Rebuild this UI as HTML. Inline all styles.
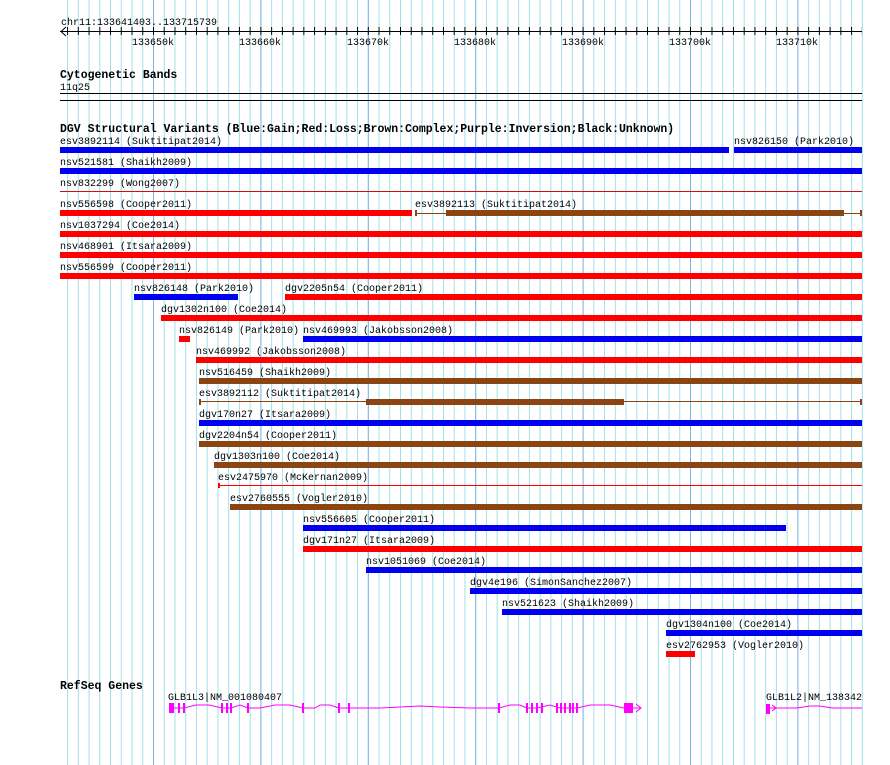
<!DOCTYPE html>
<html><head><meta charset="utf-8"><style>
body{margin:0;background:#fff}
svg{display:block}
text{font-family:"Liberation Mono",monospace;font-size:10px;fill:#000}
.b{font-weight:bold;font-size:11.5px}
.g{shape-rendering:crispEdges}
</style></head><body>
<svg width="890" height="765" viewBox="0 0 890 765" xmlns="http://www.w3.org/2000/svg">
<defs>
<pattern id="minor" patternUnits="userSpaceOnUse" x="153" y="0" width="10.74" height="765"><rect class="g" x="0" y="0" width="1" height="765" fill="#9ee0ea"/></pattern>
<pattern id="major" patternUnits="userSpaceOnUse" x="153" y="0" width="107.4" height="765"><rect class="g" x="0" y="0" width="1" height="765" fill="#80b4e0"/></pattern>
<pattern id="tick" patternUnits="userSpaceOnUse" x="153" y="27" width="10.74" height="8"><rect class="g" x="0" y="0" width="1" height="8" fill="#000"/></pattern>
</defs>
<g class="g">
<rect x="60" y="0" width="803" height="765" fill="url(#minor)"/>
<rect x="60" y="0" width="803" height="765" fill="url(#major)"/>
</g>
<text x="61" y="25">chr11:133641403..133715739</text>
<rect x="60" y="31" width="802" height="1" fill="#000"/>
<rect class="g" x="60" y="27" width="802" height="8" fill="url(#tick)"/>
<path d="M66 27 L61 31.5 L66 36" fill="none" stroke="#000"/>
<text x="132" y="45">133650k</text><text x="239" y="45">133660k</text><text x="347" y="45">133670k</text><text x="454" y="45">133680k</text><text x="562" y="45">133690k</text><text x="669" y="45">133700k</text><text x="776" y="45">133710k</text>
<text x="60" y="78" class="b">Cytogenetic Bands</text>
<text x="60" y="90">11q25</text>
<rect x="60" y="93" width="802" height="1" fill="#000"/>
<rect x="60" y="100" width="802" height="1" fill="#000"/>
<text x="60" y="132" class="b">DGV Structural Variants (Blue:Gain;Red:Loss;Brown:Complex;Purple:Inversion;Black:Unknown)</text>
<g class="g">
<text x="60" y="144">esv3892114 (Suktitipat2014)</text><rect x="60" y="147" width="669" height="6" fill="#0000ee"/>
<text x="734" y="144">nsv826150 (Park2010)</text><rect x="734" y="147" width="128" height="6" fill="#0000ee"/>
<text x="60" y="165">nsv521581 (Shaikh2009)</text><rect x="60" y="168" width="802" height="6" fill="#0000ee"/>
<text x="60" y="186">nsv832299 (Wong2007)</text><rect x="60" y="191" width="802" height="1" fill="#cc1111"/>
<text x="60" y="207">nsv556598 (Cooper2011)</text><rect x="60" y="210" width="352" height="6" fill="#ff0000"/>
<text x="415" y="207">esv3892113 (Suktitipat2014)</text><rect x="415" y="213" width="447" height="1" fill="#8b4513"/><rect x="415" y="210" width="2" height="6" fill="#8b4513"/><rect x="860" y="210" width="2" height="6" fill="#8b4513"/><rect x="446" y="210" width="398" height="6" fill="#8b4513"/>
<text x="60" y="228">nsv1037294 (Coe2014)</text><rect x="60" y="231" width="802" height="6" fill="#ff0000"/>
<text x="60" y="249">nsv468901 (Itsara2009)</text><rect x="60" y="252" width="802" height="6" fill="#ff0000"/>
<text x="60" y="270">nsv556599 (Cooper2011)</text><rect x="60" y="273" width="802" height="6" fill="#ff0000"/>
<text x="134" y="291">nsv826148 (Park2010)</text><rect x="134" y="294" width="104" height="6" fill="#0000ee"/>
<text x="285" y="291">dgv2205n54 (Cooper2011)</text><rect x="285" y="294" width="577" height="6" fill="#ff0000"/>
<text x="161" y="312">dgv1302n100 (Coe2014)</text><rect x="161" y="315" width="701" height="6" fill="#ff0000"/>
<text x="179" y="333">nsv826149 (Park2010)</text><rect x="179" y="336" width="11" height="6" fill="#ff0000"/>
<text x="303" y="333">nsv469993 (Jakobsson2008)</text><rect x="303" y="336" width="559" height="6" fill="#0000ee"/>
<text x="196" y="354">nsv469992 (Jakobsson2008)</text><rect x="196" y="357" width="666" height="6" fill="#ff0000"/>
<text x="199" y="375">nsv516459 (Shaikh2009)</text><rect x="199" y="378" width="663" height="6" fill="#8b4513"/>
<text x="199" y="396">esv3892112 (Suktitipat2014)</text><rect x="199" y="401" width="663" height="1" fill="#8b4513"/><rect x="199" y="399" width="2" height="6" fill="#8b4513"/><rect x="860" y="399" width="2" height="6" fill="#8b4513"/><rect x="366" y="399" width="258" height="6" fill="#8b4513"/>
<text x="199" y="417">dgv170n27 (Itsara2009)</text><rect x="199" y="420" width="663" height="6" fill="#0000ee"/>
<text x="199" y="438">dgv2204n54 (Cooper2011)</text><rect x="199" y="441" width="663" height="6" fill="#8b4513"/>
<text x="214" y="459">dgv1303n100 (Coe2014)</text><rect x="214" y="462" width="648" height="6" fill="#8b4513"/>
<text x="218" y="480">esv2475970 (McKernan2009)</text><rect x="218" y="485" width="644" height="1" fill="#ff0000"/><rect x="218" y="483" width="2" height="5" fill="#ff0000"/>
<text x="230" y="501">esv2760555 (Vogler2010)</text><rect x="230" y="504" width="632" height="6" fill="#8b4513"/>
<text x="303" y="522">nsv556605 (Cooper2011)</text><rect x="303" y="525" width="483" height="6" fill="#0000ee"/>
<text x="303" y="543">dgv171n27 (Itsara2009)</text><rect x="303" y="546" width="559" height="6" fill="#ff0000"/>
<text x="366" y="564">nsv1051069 (Coe2014)</text><rect x="366" y="567" width="496" height="6" fill="#0000ee"/>
<text x="470" y="585">dgv4e196 (SimonSanchez2007)</text><rect x="470" y="588" width="392" height="6" fill="#0000ee"/>
<text x="502" y="606">nsv521623 (Shaikh2009)</text><rect x="502" y="609" width="360" height="6" fill="#0000ee"/>
<text x="666" y="627">dgv1304n100 (Coe2014)</text><rect x="666" y="630" width="196" height="6" fill="#0000ee"/>
<text x="666" y="648">esv2762953 (Vogler2010)</text><rect x="666" y="651" width="29" height="6" fill="#ff0000"/>
</g>
<text x="60" y="689" class="b">RefSeq Genes</text>
<text x="168" y="700">GLB1L3|NM_001080407</text>
<g fill="#ff00ff">
<polyline fill="none" stroke="#ff00ff" points="174,708 184,708 196,705 209,705 222,708 231,708 240,705 248,708 260,708 275,705 290,705 303,708 315,708 320,705 330,705 339,708 349,708 362,708 380,708 400,707 420,706 440,707 470,708 499,708 510,705 520,705 527,708 537,708 550,705 560,708 577,708 590,705 610,705 624,708 641,708"/>
<path d="M636 704 L641 708 L636 712" fill="none" stroke="#ff00ff"/>
<rect x="169" y="703" width="5" height="10"/><rect x="178" y="703" width="2" height="10"/><rect x="183" y="703" width="2" height="10"/>
<rect x="221" y="703" width="2" height="10"/><rect x="226" y="703" width="2" height="10"/><rect x="230" y="703" width="2" height="10"/><rect x="247" y="703" width="2" height="10"/>
<rect x="302" y="703" width="2" height="10"/><rect x="338" y="703" width="2" height="10"/><rect x="348" y="703" width="2" height="10"/>
<rect x="498" y="703" width="2" height="10"/><rect x="526" y="703" width="2" height="10"/><rect x="531" y="703" width="2" height="10"/><rect x="536" y="703" width="2" height="10"/><rect x="541" y="703" width="2" height="10"/>
<rect x="556" y="703" width="2" height="10"/><rect x="560" y="703" width="2" height="10"/><rect x="564" y="703" width="2" height="10"/><rect x="569" y="703" width="2" height="10"/><rect x="572" y="703" width="2" height="10"/><rect x="576" y="703" width="2" height="10"/>
<rect x="624" y="703" width="9" height="10"/>
</g>
<text x="766" y="700">GLB1L2|NM_138342</text>
<g fill="#ff00ff">
<rect x="766" y="704" width="4" height="10"/>
<polyline fill="none" stroke="#ff00ff" points="770,708 797,708 810,706 820,706 832,708 862,708"/>
<path d="M772 705 L776 708 L772 711" fill="none" stroke="#ff00ff"/>
</g>
</svg>
</body></html>
